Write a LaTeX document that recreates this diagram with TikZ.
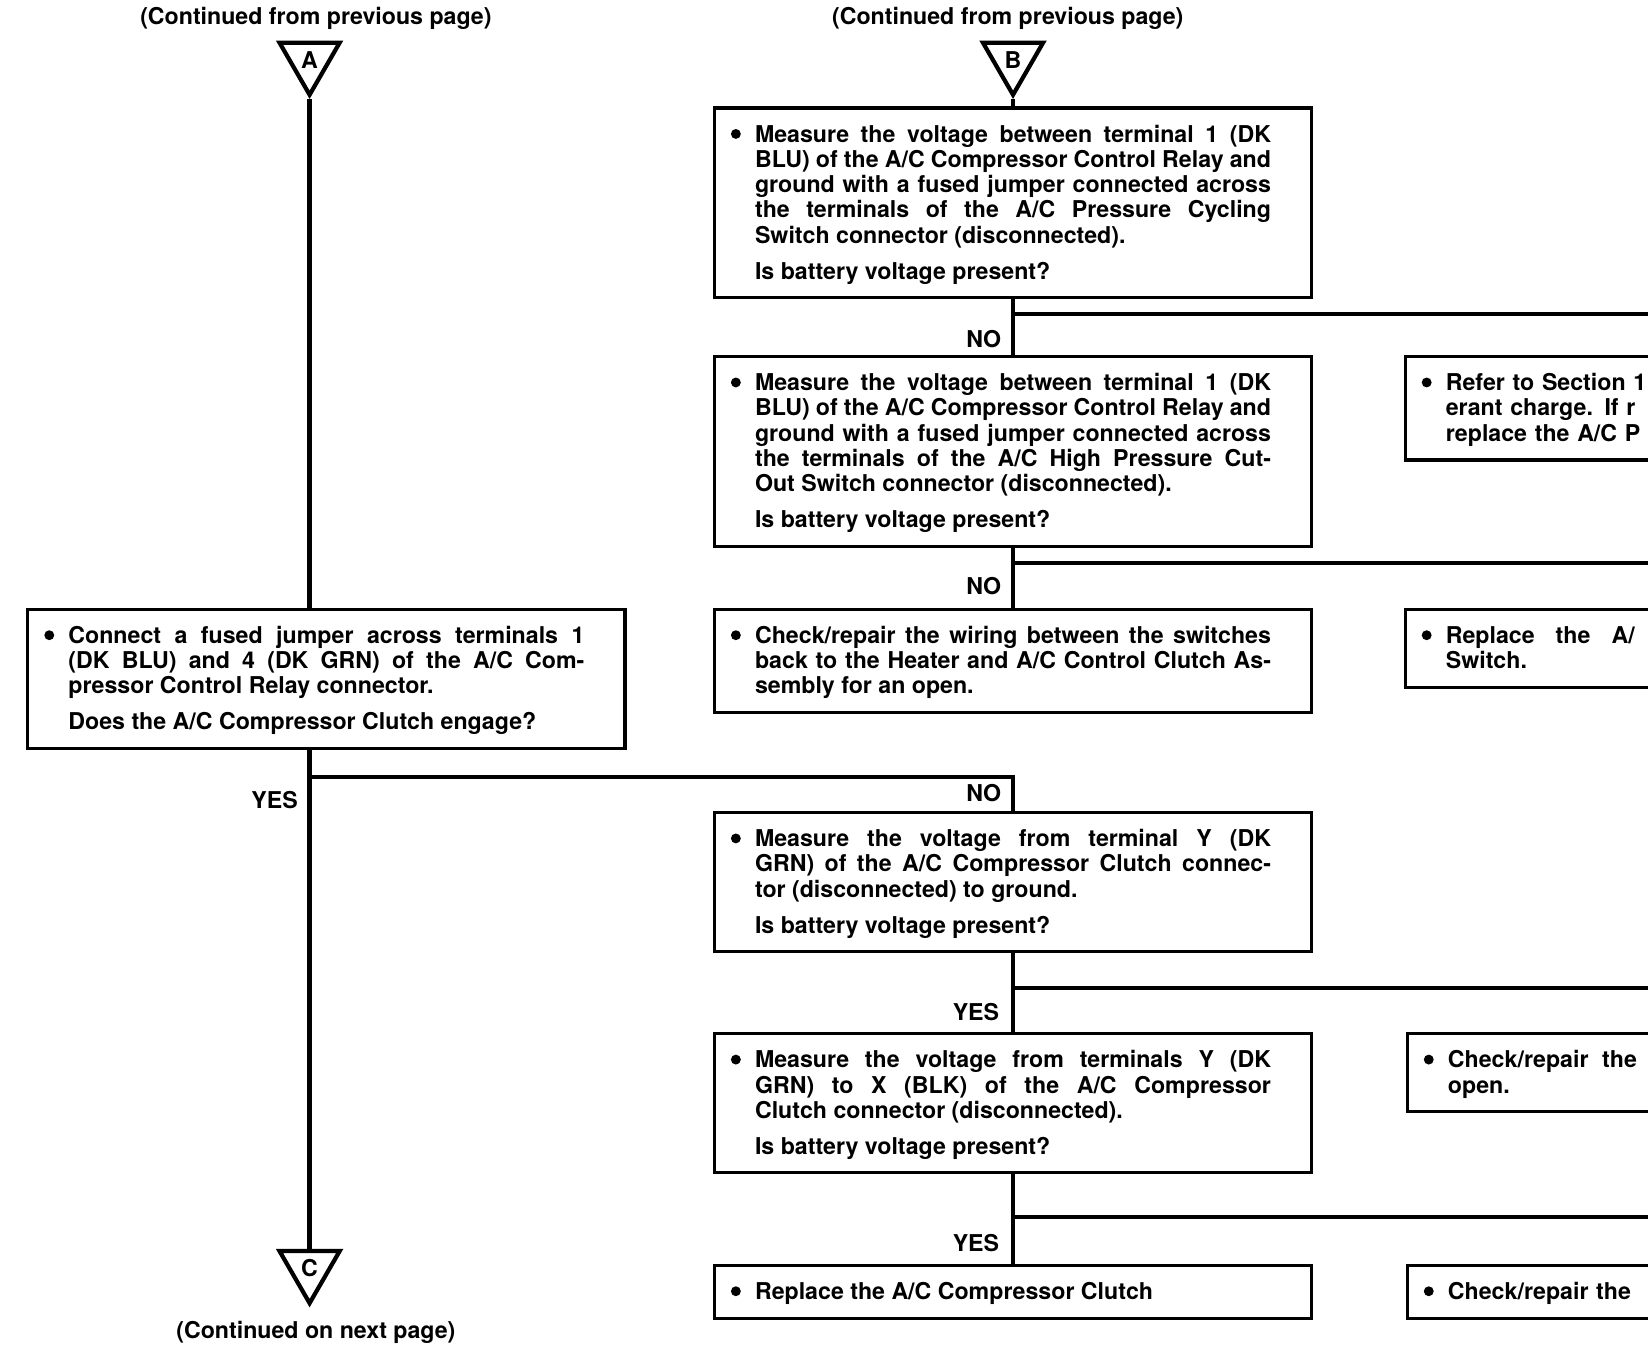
\documentclass[tikz,border=0pt]{standalone}
\usepackage{fontspec}
\setmainfont{TeX Gyre Heros}
\usetikzlibrary{shapes.geometric}
\newcommand\dfnt{\fontsize{22}{24}\selectfont\bfseries}
\newcommand\fs{\rule{0pt}{19.5pt}}
\newcommand\fe{\rule[-4.5pt]{0pt}{4.5pt}}
\newcommand\bul{\llap{\tikz[baseline=0pt]\fill (0pt,7.8pt) circle (4.7pt);\hspace{13.5pt}}}
\newcommand\qgap{\par\vspace{10pt}}
\newcommand\wsp[1]{\hspace{#1pt}}
\tikzset{
  box/.style={draw, line width=3pt, text width=490pt, inner xsep=38.5pt,
    inner ysep=13pt, align=justify, anchor=north west, font=\dfnt,
    execute at begin node={\tolerance=10000\hyphenpenalty=10000\exhyphenpenalty=10000\parindent=0pt}},
  rbox/.style={draw, line width=3pt, text width=490pt, inner xsep=38.5pt,
    inner ysep=13pt, align=left, anchor=north west, font=\dfnt},
  conn/.style={line width=4pt},
  tri/.style={regular polygon, regular polygon sides=3, shape border rotate=180,
    draw, line width=4pt, minimum size=66pt, inner sep=0pt, font=\dfnt},
  lab/.style={font=\dfnt, inner sep=0pt, anchor=east},
  hdr/.style={font=\dfnt, inner sep=0pt}
}
\begin{document}
\begin{tikzpicture}[x=1pt,y=-1pt]
\useasboundingbox (0,0) rectangle (1565,1278);
\clip (0,0) rectangle (1565,1278);
\fill[white] (0,0) rectangle (1565,1278);
\coordinate (E) at (1600,0);

% headers and off-page connectors
\node[hdr] (hA) at (300,17) {(Continued from previous page)};
\node[hdr] (hB) at (957,17) {(Continued from previous page)};
\node[hdr] (hC) at (300,1265) {(Continued on next page)};
\node[tri] (A) at (294,57) {A};
\node[tri] (B) at (962,57) {B};
\node[tri] (C) at (294,1204.5) {C};

% left column
\node[box] (lb) at (25,577) {\bul\fs Connect a fused jumper across terminals 1\linebreak
(DK BLU) and 4 (DK GRN) of the A/C Com-\linebreak
pressor Control Relay connector.\qgap
Does the A/C Compressor Clutch engage?\fe};

% right column
\node[box] (b1) at (677,101) {\bul\fs Measure the voltage between terminal 1 (DK\linebreak
BLU) of the A/C Compressor Control Relay and\linebreak
ground with a fused jumper connected across\linebreak
the terminals of the A/C Pressure Cycling\linebreak
Switch connector (disconnected).\qgap
Is battery voltage present?\fe};

\node[box] (b2) at (677,337) {\bul\fs Measure the voltage between terminal 1 (DK\linebreak
BLU) of the A/C Compressor Control Relay and\linebreak
ground with a fused jumper connected across\linebreak
the terminals of the A/C High Pressure Cut-\linebreak
Out Switch connector (disconnected).\qgap
Is battery voltage present?\fe};

\node[box] (b3) at (677,577) {\bul\fs Check/repair the wiring between the switches\linebreak
back to the Heater and A/C Control Clutch As-\linebreak
sembly for an open.\fe};

\node[box] (b4) at (677,770) {\bul\fs Measure the voltage from terminal Y (DK\linebreak
GRN) of the A/C Compressor Clutch connec-\linebreak
tor (disconnected) to ground.\qgap
Is battery voltage present?\fe};

\node[box] (b5) at (677,980) {\bul\fs Measure the voltage from terminals Y (DK\linebreak
GRN) to X (BLK) of the A/C Compressor\linebreak
Clutch connector (disconnected).\qgap
Is battery voltage present?\fe};

\node[box] (b6) at (677,1200) {\bul\fs Replace the A/C Compressor Clutch\fe};

% far right (cut off) boxes
\node[rbox] (r1) at (1333,337) {\bul\fs Refer to Section 1\\
erant charge. If r\\
replace the A/C P\fe};
\node[rbox] (r2) at (1333,577) {\bul\fs Replace\wsp{20}the\wsp{20}A/\\
Switch.\fe};
\node[rbox] (r3) at (1335,980) {\bul\fs Check/repair\wsp{13}the\\
open.\fe};
\node[rbox] (r4) at (1335,1200) {\bul\fs Check/repair the\fe};

% connectors, left trunk
\draw[conn] (A.corner 1) -- (lb.north -| A);
\draw[conn] (lb.south -| A) -- (C.north);
\coordinate (jl) at (294,738);
\draw[conn] (jl) -| (b4.north -| B);

% right trunk
\draw[conn] (B.corner 1) -- (b1.north -| B);
\draw[conn] (b1.south -| B) -- (b2.north -| B);
\draw[conn] (b2.south -| B) -- (b3.north -| B);
\draw[conn] (b4.south -| B) -- (b5.north -| B);
\draw[conn] (b5.south -| B) -- (b6.north -| B);
\coordinate (j1) at (962,298);
\coordinate (j2) at (962,535);
\coordinate (j3) at (962,938);
\coordinate (j4) at (962,1156);
\draw[conn] (j1) -- (j1 -| E);
\draw[conn] (j2) -- (j2 -| E);
\draw[conn] (j3) -- (j3 -| E);
\draw[conn] (j4) -- (j4 -| E);

% labels
\node[lab] (n1) at (951,322) {NO};
\node[lab] (n2) at (951,557) {NO};
\node[lab] (n3) at (951,753) {NO};
\node[lab] (y1) at (283,760) {YES};
\node[lab] (y2) at (949,961) {YES};
\node[lab] (y3) at (949,1180) {YES};
\end{tikzpicture}
\end{document}
